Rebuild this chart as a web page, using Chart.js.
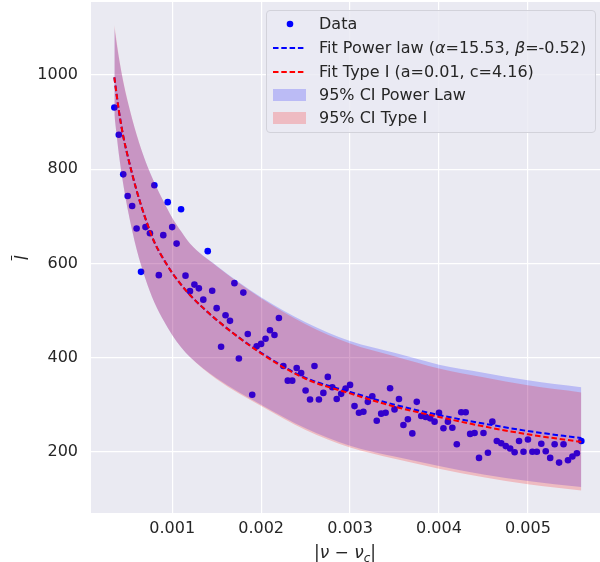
<!DOCTYPE html>
<html>
<head>
<meta charset="utf-8">
<script src="https://cdn.jsdelivr.net/npm/chart.js@4.4.1/dist/chart.umd.min.js"></script>
<style>
  body { margin: 0; background: #fff; }
  #wrap { position: relative; width: 600px; height: 562px; font-family: 'DejaVu Sans', sans-serif; color: #262626; }
  #chart { position: absolute; left: 0; top: 0; }
  #legend { position: absolute; left: 266px; top: 10px; width: 330px; height: 123px; box-sizing: border-box;
            border: 1px solid #d2d2da; border-radius: 4px; background: rgba(234,234,242,0.8); font-size: 16px; }
  .row { position: absolute; left: 0; width: 100%; height: 20px; line-height: 20px; white-space: nowrap; }
  .row .txt { position: absolute; left: 52px; top: 0; }
  .row svg { position: absolute; left: 5px; top: 0; }
  #xtitle { position: absolute; left: 245px; width: 200px; top: 542px; text-align: center; font-size: 17px; }
  #ytitle { position: absolute; left: 11px; top: 247px; width: 22px; height: 22px; font-size: 17px;
            transform: rotate(-90deg); text-align: center; line-height: 22px; }
</style>
</head>
<body>
<div id="wrap">
  <canvas id="chart" width="600" height="562"></canvas>
  <div id="ytitle"><i style="text-decoration: overline;">l</i></div>
  <div id="xtitle">|<i>ν</i> − <i>ν</i><sub style="font-size:12px;"><i>c</i></sub>|</div>
  <div id="legend"></div>
</div>
<script>
// measured data: x = |nu - nu_c|, y = l-bar
const dataX = [0.00035, 0.0004, 0.00045, 0.0005, 0.00055, 0.0006, 0.00065, 0.0007, 0.00075, 0.0008,
  0.00085, 0.0009, 0.00095, 0.001, 0.00105, 0.0011, 0.00115, 0.0012, 0.00125, 0.0013,
  0.00135, 0.0014, 0.00145, 0.0015, 0.00155, 0.0016, 0.00165, 0.0017, 0.00175, 0.0018,
  0.00185, 0.0019, 0.00195, 0.002, 0.00205, 0.0021, 0.00215, 0.0022, 0.00225, 0.0023,
  0.00235, 0.0024, 0.00245, 0.0025, 0.00255, 0.0026, 0.00265, 0.0027, 0.00275, 0.0028,
  0.00285, 0.0029, 0.00295, 0.003, 0.00305, 0.0031, 0.00315, 0.0032, 0.00325, 0.0033,
  0.00335, 0.0034, 0.00345, 0.0035, 0.00355, 0.0036, 0.00365, 0.0037, 0.00375, 0.0038,
  0.00385, 0.0039, 0.00395, 0.004, 0.00405, 0.0041, 0.00415, 0.0042, 0.00425, 0.0043,
  0.00435, 0.0044, 0.00445, 0.0045, 0.00455, 0.0046, 0.00465, 0.0047, 0.00475, 0.0048,
  0.00485, 0.0049, 0.00495, 0.005, 0.00505, 0.0051, 0.00515, 0.0052, 0.00525, 0.0053,
  0.00535, 0.0054, 0.00545, 0.0055, 0.00555, 0.0056];
const dataY = [931, 873, 789, 743, 722, 674, 582, 677, 664, 766,
  575, 660, 730, 677, 642, 715, 574, 541, 555, 547,
  523, 626, 542, 505, 423, 490, 478, 558, 398, 538,
  450, 321, 424, 429, 440, 458, 448, 484, 382, 351,
  351, 378, 367, 330, 311, 382, 311, 325, 359, 337,
  312, 323, 334, 342, 297, 283, 285, 306, 318, 266,
  281, 283, 335, 290, 312, 257, 269, 239, 306, 276,
  274, 271, 264, 283, 250, 264, 251, 216, 284, 284,
  238, 240, 187, 240, 198, 264, 223, 218, 212, 207,
  199, 223, 200, 226, 200, 200, 217, 201, 187, 216,
  177, 216, 182, 190, 197, 223];

// fitted curves and confidence bands
const fitX = [0.00035, 0.0004, 0.00045, 0.0005, 0.0006, 0.0007, 0.0008, 0.0009, 0.001, 0.0011, 0.0012, 0.0015,
  0.002, 0.0025, 0.003, 0.0035, 0.004, 0.0045, 0.005, 0.0056];
const powerFit = [995, 925, 870, 828, 755, 695, 645, 610, 580, 555, 533, 480, 410, 357, 327, 300, 278, 260, 244, 229];
const typeFit  = [995, 925, 870, 828, 755, 695, 645, 610, 580, 555, 533, 480, 409, 355, 324, 296, 274, 254, 237, 221];
const powerUpper = [1100, 1037, 985, 943, 873, 817, 772, 733, 697, 668, 642, 595, 528, 475, 435, 410, 385, 368, 352, 337];
const powerLower = [915, 833, 768, 715, 630, 567, 517, 480, 448, 422, 401, 356, 300, 250, 213, 190, 170, 152, 138, 125];
const typeUpper  = [1106, 1040, 987, 945, 874, 817, 772, 733, 697, 668, 642, 594, 526, 471, 430, 403, 377, 358, 341, 326];
const typeLower  = [915, 833, 768, 715, 630, 567, 517, 480, 448, 422, 401, 354, 297, 246, 209, 185, 164, 146, 131, 118];

const xTicks = [0.001, 0.002, 0.003, 0.004, 0.005];
const xTickLabels = ['0.001', '0.002', '0.003', '0.004', '0.005'];
const yTicks = [200, 400, 600, 800, 1000];
const yTickLabels = ['200', '400', '600', '800', '1000'];

const legendItems = [
  { kind: 'dot', color: 'blue', html: 'Data' },
  { kind: 'dash', color: 'blue', html: 'Fit Power law (<i>α</i>=15.53, <i>β</i>=-0.52)' },
  { kind: 'dash', color: 'red', html: 'Fit Type I (a=0.01, c=4.16)' },
  { kind: 'patch', color: 'rgba(0,0,255,0.2)', html: '95% CI Power Law' },
  { kind: 'patch', color: 'rgba(255,0,0,0.2)', html: '95% CI Type I' }
];

const pts = (xs, ys) => xs.map((x, i) => ({ x: x, y: ys[i] }));
const font = { family: "'DejaVu Sans', sans-serif", size: 16 };

// legend drawn inside the axes like matplotlib
const legendDiv = document.getElementById('legend');
const rowTops = [3, 27, 51, 74, 97];
legendItems.forEach((item, i) => {
  let marker = '';
  if (item.kind === 'dot') {
    marker = `<svg width="34" height="20"><circle cx="18" cy="10" r="3.3" fill="${item.color}"/></svg>`;
  } else if (item.kind === 'dash') {
    marker = `<svg width="34" height="20"><line x1="1" y1="10" x2="34" y2="10" stroke="${item.color}" stroke-width="2" stroke-dasharray="5.5 2.8"/></svg>`;
  } else {
    marker = `<svg width="34" height="20"><rect x="1" y="4" width="33" height="12" fill="${item.color}"/></svg>`;
  }
  legendDiv.innerHTML += `<div class="row" style="top:${rowTops[i]}px">${marker}<span class="txt">${item.html}</span></div>`;
});

const plotBackground = {
  id: 'plotBackground',
  beforeDraw(chart) {
    const { ctx, chartArea: a } = chart;
    ctx.save();
    ctx.fillStyle = '#eaeaf2';
    ctx.fillRect(a.left, a.top, a.right - a.left, a.bottom - a.top);
    ctx.restore();
  }
};

const bandStyle = { borderWidth: 0, pointRadius: 0, cubicInterpolationMode: 'monotone' };

new Chart(document.getElementById('chart'), {
  type: 'line',
  data: {
    datasets: [
      { label: 'Data', data: pts(dataX, dataY), showLine: false, pointRadius: 3.3, pointBorderWidth: 0,
        pointBackgroundColor: 'blue', borderColor: 'blue', order: 5 },
      Object.assign({ label: 'PL upper', data: pts(fitX, powerUpper), fill: 2,
        backgroundColor: 'rgba(0,0,255,0.2)', order: 4 }, bandStyle),
      Object.assign({ label: 'PL lower', data: pts(fitX, powerLower), fill: false, order: 4 }, bandStyle),
      Object.assign({ label: 'T1 upper', data: pts(fitX, typeUpper), fill: 4,
        backgroundColor: 'rgba(255,0,0,0.2)', order: 3 }, bandStyle),
      Object.assign({ label: 'T1 lower', data: pts(fitX, typeLower), fill: false, order: 3 }, bandStyle),
      { label: 'Fit Power law', data: pts(fitX, powerFit), borderColor: 'blue', borderWidth: 2,
        borderDash: [5.5, 2.8], pointRadius: 0, fill: false, cubicInterpolationMode: 'monotone', order: 2 },
      { label: 'Fit Type I', data: pts(fitX, typeFit), borderColor: 'red', borderWidth: 2,
        borderDash: [5.5, 2.8], pointRadius: 0, fill: false, cubicInterpolationMode: 'monotone', order: 1 }
    ]
  },
  options: {
    responsive: false,
    animation: false,
    devicePixelRatio: 1,
    layout: { autoPadding: false, padding: { top: 2, right: 0, left: 0, bottom: 0 } },
    plugins: { legend: { display: false }, tooltip: { enabled: false } },
    scales: {
      x: {
        type: 'linear', min: 0.0000875, max: 0.00581,
        grid: { color: '#ffffff', lineWidth: 1.2, drawTicks: false },
        border: { display: false },
        ticks: { font: font, color: '#262626', padding: 6, maxRotation: 0,
                 callback: (v, i) => xTickLabels[i] },
        afterBuildTicks: s => { s.ticks = xTicks.map(v => ({ value: v })); },
        afterFit: s => { s.height = 49; s.paddingLeft = 0; s.paddingRight = 0; }
      },
      y: {
        type: 'linear', min: 70, max: 1155,
        grid: { color: '#ffffff', lineWidth: 1.2, drawTicks: false },
        border: { display: false },
        ticks: { font: font, color: '#262626', padding: 13,
                 callback: (v, i) => yTickLabels[i] },
        afterBuildTicks: s => { s.ticks = yTicks.map(v => ({ value: v })); },
        afterFit: s => { s.width = 91; s.paddingTop = 0; s.paddingBottom = 0; }
      }
    }
  },
  plugins: [plotBackground]
});
</script>
</body>
</html>
